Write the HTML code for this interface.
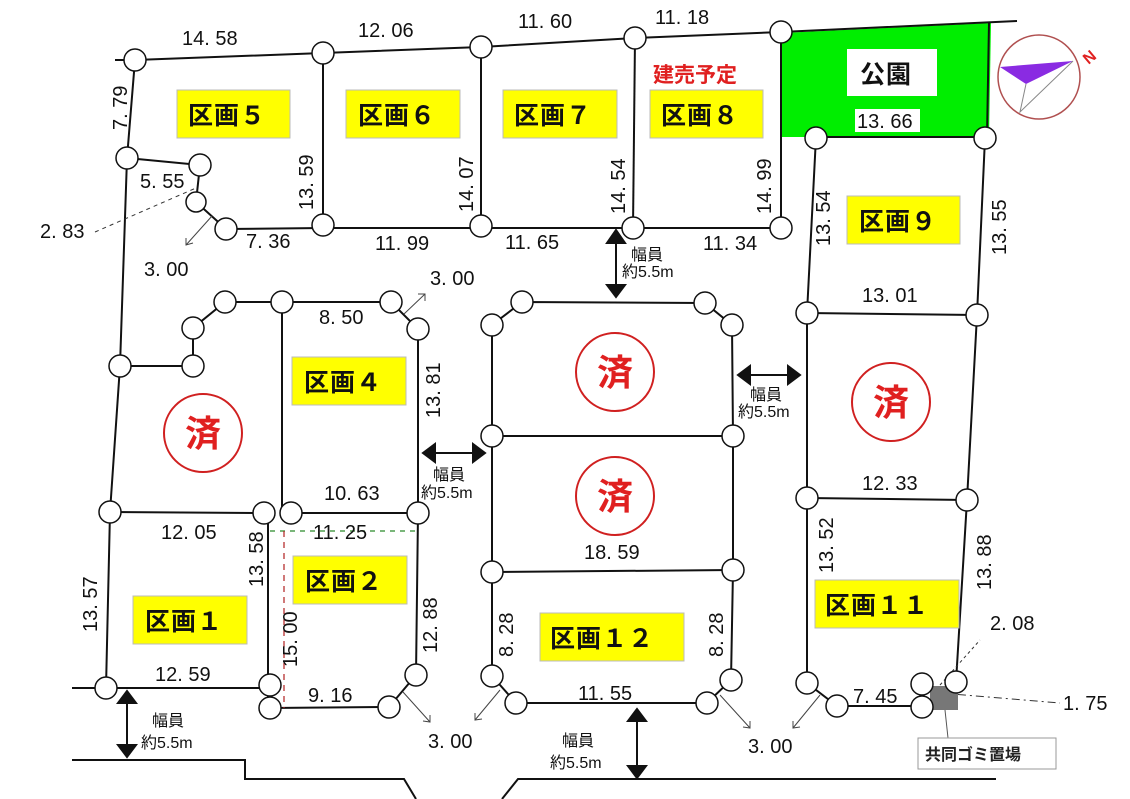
<!DOCTYPE html>
<html><head><meta charset="utf-8"><style>
html,body{margin:0;padding:0;background:#fff;}
svg{display:block}
.n{font-family:"Liberation Sans","Noto Sans CJK JP",sans-serif;font-size:20px;fill:#111;}
.k{font-family:"Liberation Sans","Noto Sans CJK JP",sans-serif;font-weight:bold;font-size:25px;fill:#111;letter-spacing:1px;}
.s{font-family:"Liberation Sans","Noto Sans CJK JP",sans-serif;font-size:16px;fill:#111;}
</style></head><body>
<svg width="1130" height="799" viewBox="0 0 1130 799" xmlns="http://www.w3.org/2000/svg">
<polygon points="781,33 991,23 989,137 781,137" fill="#00ee00"/>
<g stroke="#111" stroke-width="2" fill="none">
<polyline points="115,60 135,60 323,53 481,47 635,38 781,32 1017,21"/>
<line x1="989" y1="23" x2="987" y2="137"/>
<line x1="816" y1="137" x2="987" y2="137"/>
<polyline points="135,60 127,158 120,366 110,512 106,688"/>
<polyline points="127,158 200,165 196,202 226,229 323,228 481,228 633,228 781,228 781,32"/>
<line x1="323" y1="53" x2="323" y2="228"/>
<line x1="481" y1="47" x2="481" y2="228"/>
<line x1="635" y1="38" x2="633" y2="228"/>
<polyline points="120,366 193,366 193,328 225,302 391,302 418,329 418,513 416,675 389,707 270,708"/>
<line x1="282" y1="302" x2="282" y2="513"/>
<line x1="110" y1="512" x2="264" y2="513"/>
<line x1="291" y1="513" x2="418" y2="513"/>
<line x1="268" y1="513" x2="268" y2="708"/>
<line x1="72" y1="688" x2="270" y2="688"/>
<polyline points="492,676 492,325 522,302 705,303 732,325 733,436 733,570 731,680 707,703 516,703 492,676"/>
<line x1="492" y1="436" x2="733" y2="436"/>
<line x1="492" y1="572" x2="733" y2="570"/>
<polyline points="816,137 807,313 807,498 807,683 837,706 922,706"/>
<polyline points="985,138 977,315 967,500 956,682"/>
<line x1="807" y1="313" x2="977" y2="315"/>
<line x1="807" y1="498" x2="967" y2="500"/>
<polyline points="72,760 245,760 245,779 404,779 416,799"/>
<polyline points="502,799 518,779 996,779"/>
</g>
<line x1="270" y1="531" x2="418" y2="531" stroke="#2a8a2a" stroke-width="1.2" stroke-dasharray="5,5"/>
<line x1="284" y1="531" x2="284" y2="708" stroke="#b02020" stroke-width="1.2" stroke-dasharray="6,5"/>
<line x1="95" y1="232" x2="196" y2="188" stroke="#333" stroke-width="1" stroke-dasharray="4,4"/>
<line x1="940" y1="693" x2="1060" y2="703" stroke="#333" stroke-width="1" stroke-dasharray="8,4,2,4"/>
<line x1="940" y1="685" x2="980" y2="640" stroke="#333" stroke-width="1" stroke-dasharray="3,3"/>
<line x1="945" y1="710" x2="948" y2="738" stroke="#555" stroke-width="1"/>
<rect x="930" y="686" width="28" height="24" fill="#777"/>
<g stroke="#444" stroke-width="1" fill="none">
<line x1="212" y1="216" x2="186" y2="245"/><polyline points="186,238 186,245 193,243"/>
<line x1="404" y1="314" x2="425" y2="294"/><polyline points="418,294 425,294 425,301"/>
<line x1="403" y1="692" x2="430" y2="722"/><polyline points="423,721 430,722 430,715"/>
<line x1="500" y1="690" x2="475" y2="720"/><polyline points="475,713 475,720 482,719"/>
<line x1="720" y1="695" x2="750" y2="728"/><polyline points="743,727 750,728 750,721"/>
<line x1="820" y1="695" x2="793" y2="728"/><polyline points="793,721 793,728 800,727"/>
</g>
<g fill="#fff" stroke="#111" stroke-width="1.5">
<circle cx="135" cy="60" r="11"/><circle cx="323" cy="53" r="11"/><circle cx="481" cy="47" r="11"/><circle cx="635" cy="38" r="11"/><circle cx="781" cy="32" r="11"/>
<circle cx="127" cy="158" r="11"/><circle cx="200" cy="165" r="11"/><circle cx="196" cy="202" r="10"/><circle cx="226" cy="229" r="11"/><circle cx="323" cy="225" r="11"/><circle cx="481" cy="226" r="11"/><circle cx="633" cy="228" r="11"/><circle cx="781" cy="228" r="11"/>
<circle cx="816" cy="138" r="11"/><circle cx="985" cy="138" r="11"/>
<circle cx="225" cy="302" r="11"/><circle cx="282" cy="302" r="11"/><circle cx="391" cy="302" r="11"/><circle cx="418" cy="329" r="11"/><circle cx="193" cy="328" r="11"/><circle cx="193" cy="366" r="11"/><circle cx="120" cy="366" r="11"/>
<circle cx="110" cy="512" r="11"/><circle cx="264" cy="513" r="11"/><circle cx="291" cy="513" r="11"/><circle cx="418" cy="513" r="11"/>
<circle cx="106" cy="688" r="11"/><circle cx="270" cy="685" r="11"/><circle cx="270" cy="708" r="11"/><circle cx="389" cy="707" r="11"/><circle cx="416" cy="675" r="11"/>
<circle cx="492" cy="325" r="11"/><circle cx="522" cy="302" r="11"/><circle cx="705" cy="303" r="11"/><circle cx="732" cy="325" r="11"/>
<circle cx="492" cy="436" r="11"/><circle cx="733" cy="436" r="11"/><circle cx="492" cy="572" r="11"/><circle cx="733" cy="570" r="11"/>
<circle cx="492" cy="676" r="11"/><circle cx="516" cy="703" r="11"/><circle cx="707" cy="703" r="11"/><circle cx="731" cy="680" r="11"/>
<circle cx="807" cy="313" r="11"/><circle cx="977" cy="315" r="11"/><circle cx="807" cy="498" r="11"/><circle cx="967" cy="500" r="11"/>
<circle cx="807" cy="683" r="11"/><circle cx="837" cy="706" r="11"/><circle cx="922" cy="684" r="11"/><circle cx="922" cy="707" r="11"/><circle cx="956" cy="682" r="11"/>
</g>
<g stroke="#111" stroke-width="2" fill="#111">
<line x1="616" y1="240" x2="616" y2="288"/><polygon points="607,243 625,243 616,230"/><polygon points="607,285 625,285 616,297"/>
<line x1="748" y1="375" x2="790" y2="375"/><polygon points="750,366 750,384 738,375"/><polygon points="788,366 788,384 800,375"/>
<line x1="433" y1="453" x2="475" y2="453"/><polygon points="435,444 435,462 423,453"/><polygon points="473,444 473,462 485,453"/>
<line x1="127" y1="700" x2="127" y2="747"/><polygon points="118,703 136,703 127,691"/><polygon points="118,745 136,745 127,757"/>
<line x1="637" y1="718" x2="637" y2="768"/><polygon points="628,721 646,721 637,709"/><polygon points="628,766 646,766 637,778"/>
</g>
<g fill="#ffff00" stroke="#bbb" stroke-width="1">
<rect x="177" y="90" width="113" height="48"/><rect x="346" y="90" width="114" height="48"/><rect x="503" y="90" width="114" height="48"/><rect x="650" y="90" width="113" height="48"/>
<rect x="847" y="196" width="113" height="48"/><rect x="292" y="357" width="114" height="48"/><rect x="293" y="556" width="114" height="48"/><rect x="133" y="596" width="114" height="48"/>
<rect x="540" y="613" width="144" height="48"/><rect x="815" y="580" width="144" height="48"/>
</g>
<g class="k">
<text x="188" y="124">区画５</text><text x="358" y="124">区画６</text><text x="514" y="124">区画７</text><text x="661" y="124">区画８</text>
<text x="859" y="230">区画９</text><text x="304" y="391">区画４</text><text x="305" y="590">区画２</text><text x="145" y="630">区画１</text>
<text x="550" y="647">区画１２</text><text x="825" y="614">区画１１</text>
</g>
<text x="653" y="82" style="font-family:'Liberation Sans','Noto Sans CJK JP',sans-serif;font-weight:bold;font-size:21px;fill:#e02020">建売予定</text>
<rect x="847" y="49" width="90" height="47" fill="#fff"/>
<text x="860" y="83" class="k">公園</text>
<rect x="855" y="109" width="65" height="23" fill="#fff"/>
<text x="857" y="128" class="n">13. 66</text>
<g fill="none" stroke="#d02020" stroke-width="2">
<circle cx="203" cy="433" r="39"/><circle cx="615" cy="372" r="39"/><circle cx="615" cy="496" r="39"/><circle cx="891" cy="402" r="39"/>
</g>
<g style="font-family:'Liberation Sans','Noto Sans CJK JP',sans-serif;font-weight:bold;font-size:36px;fill:#e02020" text-anchor="middle">
<text x="203" y="446">済</text><text x="615" y="385">済</text><text x="615" y="509">済</text><text x="891" y="415">済</text>
</g>
<ellipse cx="1039" cy="77" rx="41" ry="42" fill="#fff" stroke="#b05050" stroke-width="1.5"/>
<polygon points="1000,67 1073,61 1026,84" fill="#8a2be2"/>
<polyline points="1026,84 1020,112 1073,61" fill="none" stroke="#888" stroke-width="1"/>
<text x="1082" y="63" transform="rotate(-40 1088 55)" style="font-family:'Liberation Sans',sans-serif;font-weight:bold;font-size:16px;fill:#e02020">N</text>
<g class="n">
<text x="182" y="45">14. 58</text><text x="358" y="37">12. 06</text><text x="518" y="28">11. 60</text><text x="655" y="24">11. 18</text>
<text x="140" y="188">5. 55</text><text x="40" y="238">2. 83</text><text x="246" y="248">7. 36</text><text x="375" y="250">11. 99</text><text x="505" y="249">11. 65</text><text x="703" y="250">11. 34</text>
<text x="144" y="276">3. 00</text><text x="430" y="285">3. 00</text><text x="319" y="324">8. 50</text><text x="862" y="302">13. 01</text>
<text x="324" y="500">10. 63</text><text x="161" y="539">12. 05</text><text x="313" y="539">11. 25</text><text x="584" y="559">18. 59</text><text x="862" y="490">12. 33</text>
<text x="155" y="681">12. 59</text><text x="308" y="702">9. 16</text><text x="578" y="700">11. 55</text><text x="853" y="703">7. 45</text>
<text x="428" y="748">3. 00</text><text x="748" y="753">3. 00</text><text x="990" y="630">2. 08</text><text x="1063" y="710">1. 75</text>
</g>
<g class="n">
<text transform="translate(127,130) rotate(-90)">7. 79</text>
<text transform="translate(313,210) rotate(-90)">13. 59</text>
<text transform="translate(473,212) rotate(-90)">14. 07</text>
<text transform="translate(625,214) rotate(-90)">14. 54</text>
<text transform="translate(771,214) rotate(-90)">14. 99</text>
<text transform="translate(830,246) rotate(-90)">13. 54</text>
<text transform="translate(1006,255) rotate(-90)">13. 55</text>
<text transform="translate(440,418) rotate(-90)">13. 81</text>
<text transform="translate(263,587) rotate(-90)">13. 58</text>
<text transform="translate(97,632) rotate(-90)">13. 57</text>
<text transform="translate(297,667) rotate(-90)">15. 00</text>
<text transform="translate(437,653) rotate(-90)">12. 88</text>
<text transform="translate(513,657) rotate(-90)">8. 28</text>
<text transform="translate(723,657) rotate(-90)">8. 28</text>
<text transform="translate(833,573) rotate(-90)">13. 52</text>
<text transform="translate(991,590) rotate(-90)">13. 88</text>
</g>
<g class="s">
<text x="631" y="260">幅員</text><text x="622" y="277">約5.5m</text>
<text x="750" y="400">幅員</text><text x="738" y="417">約5.5m</text>
<text x="433" y="480">幅員</text><text x="421" y="498">約5.5m</text>
<text x="152" y="726">幅員</text><text x="141" y="748">約5.5m</text>
<text x="562" y="746">幅員</text><text x="550" y="768">約5.5m</text>
</g>
<rect x="918" y="738" width="138" height="31" fill="#fff" stroke="#999" stroke-width="1"/>
<text x="925" y="760" style="font-family:'Liberation Sans','Noto Sans CJK JP',sans-serif;font-size:16px;font-weight:bold;fill:#222">共同ゴミ置場</text>
</svg>
</body></html>
